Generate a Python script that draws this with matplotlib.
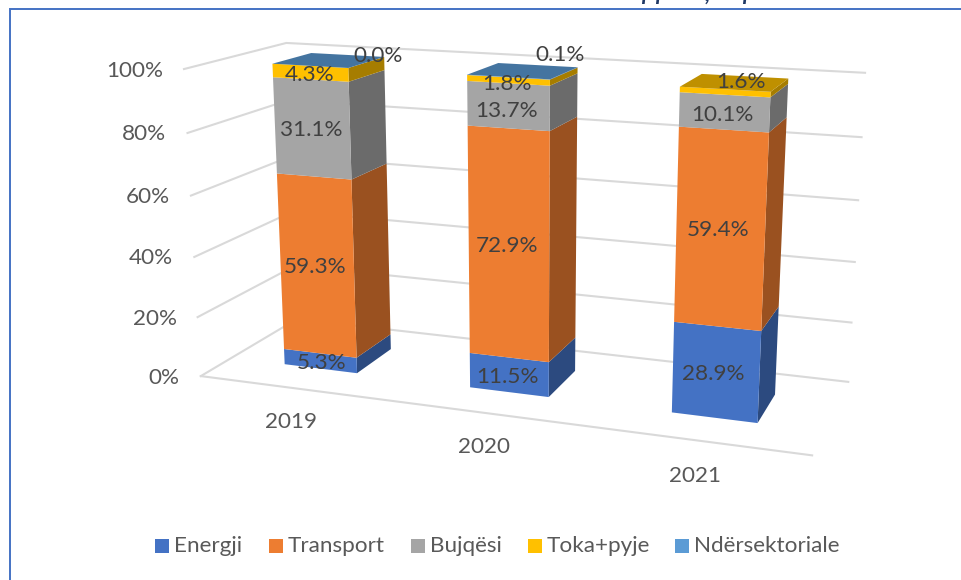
import numpy as np
import matplotlib
matplotlib.use('Agg')
import matplotlib.pyplot as plt
from matplotlib.colors import to_rgb
from matplotlib.patches import Polygon, Rectangle

plt.rcParams['font.family'] = ['Lato', 'DejaVu Sans']

# ---- data ----
YEARS = ['2019', '2020', '2021']
SERIES = ['Energji', 'Transport', 'Bujqësi', 'Toka+pyje', 'Ndërsektoriale']
energji = [5.3, 11.5, 28.9]
transport = [59.3, 72.9, 59.4]
bujqesi = [31.1, 13.7, 10.1]
toka = [4.3, 1.8, 1.6]
nder = [0.0, 0.1, float('nan')]
TICKS = [0, 20, 40, 60, 80, 100]

# ---- style / layout ----
COLORS = ['#4472C4', '#ED7D31', '#A5A5A5', '#FFC000', '#5B9BD5']
GRID = '#D9D9D9'
FRAME = '#4472C4'
FS = 16.2
# camera: (category, share, depth) -> image position
CAMERA = np.array([[170.2094, -25.91237, 130.6777, 200.8385],
                   [7.609826, -310.429, -19.79832, 376.0839],
                   [-0.04131832, -0.04922531, 0.1167278, 1.0]])
BAR_W, Z0, Z1 = 0.40, 0.30, 0.70
YEAR_POS = [(291, 422), (484, 447), (695, 476)]
LABEL_POS = {  # (series, year): label centre
    (0, 0): (322, 363), (1, 0): (315, 267), (2, 0): (311, 130), (3, 0): (310, 75), (4, 0): (378, 56),
    (0, 1): (507, 377), (1, 1): (507, 246), (2, 1): (507, 111), (3, 1): (507, 84), (4, 1): (560, 55),
    (0, 2): (713, 374), (1, 2): (718, 230), (2, 2): (722, 115), (3, 2): (741, 82),
}
LEGEND_X = [155, 269, 411, 528, 675]
HEADING = [('p', 641), ('p', 655), (',', 705), ('p', 742)]


def proj(x, v, z):
    h = CAMERA @ np.array([x, v, z, 1.0])
    return h[0] / h[2], h[1] / h[2]


fig = plt.figure(figsize=(9.62, 5.8), dpi=100)
ax = fig.add_axes([0, 0, 1, 1])
ax.set_xlim(0, 962)
ax.set_ylim(580, 0)
ax.axis('off')

# frame and the cut-off heading above it
ax.plot([10, 10, 962], [580, 9, 9], color=FRAME, lw=1.4, zorder=1, solid_joinstyle='miter')
for ch, hx in HEADING:
    ax.text(hx, 0.5, ch, fontsize=16, style='italic', weight='bold', color='#1F3864', va='baseline', ha='left', zorder=1)

# walls and floor
for t in TICKS:
    v = t / 100
    ax.plot(*zip(proj(0, v, 0), proj(0, v, 1), proj(3, v, 1)), color=GRID, lw=1.5, zorder=2)
    px, py = proj(0, v, 0)
    ax.text(px - 21, py + 1.5, f'{t}%', fontsize=FS, color='#595959', ha='right', va='center', zorder=6)
ax.plot(*zip(proj(0, 0, 0), proj(3, 0, 0)), color=GRID, lw=1.5, zorder=2)

# bars
stack = np.array([energji, transport, bujqesi, toka, nder]) / 100
for i in range(len(YEARS)):
    xl, xr = i + .5 - BAR_W / 2, i + .5 + BAR_W / 2
    base = 0.0
    for s in range(len(SERIES)):
        h = stack[s, i]
        if np.isnan(h):
            continue
        c = np.array(to_rgb(COLORS[s]))
        ax.add_patch(Polygon([proj(xr, base, Z0), proj(xr, base, Z1), proj(xr, base + h, Z1), proj(xr, base + h, Z0)],
                             fc=c * .65, ec='none', zorder=3))
        ax.add_patch(Polygon([proj(xl, base, Z0), proj(xr, base, Z0), proj(xr, base + h, Z0), proj(xl, base + h, Z0)],
                             fc=c, ec='none', zorder=3))
        base += h
        top = c * .75
    ax.add_patch(Polygon([proj(xl, base, Z0), proj(xr, base, Z0), proj(xr, base, Z1), proj(xl, base, Z1)],
                         fc=top, ec='none', zorder=3))
    ax.text(*YEAR_POS[i], YEARS[i], fontsize=FS, color='#595959', ha='center', va='center', zorder=6)

# data labels
for (s, i), (lx, ly) in LABEL_POS.items():
    ax.text(lx, ly, f'{stack[s, i] * 100:.1f}%', fontsize=FS, color='#404040', ha='center', va='center', zorder=6)

# legend
for name, col, lx in zip(SERIES, COLORS, LEGEND_X):
    ax.add_patch(Rectangle((lx, 539), 14, 14, fc=col, ec='none', zorder=6))
    ax.text(lx + 19, 546, name, fontsize=FS, color='#595959', ha='left', va='center', zorder=6)

fig.savefig('out.png', dpi=100)
